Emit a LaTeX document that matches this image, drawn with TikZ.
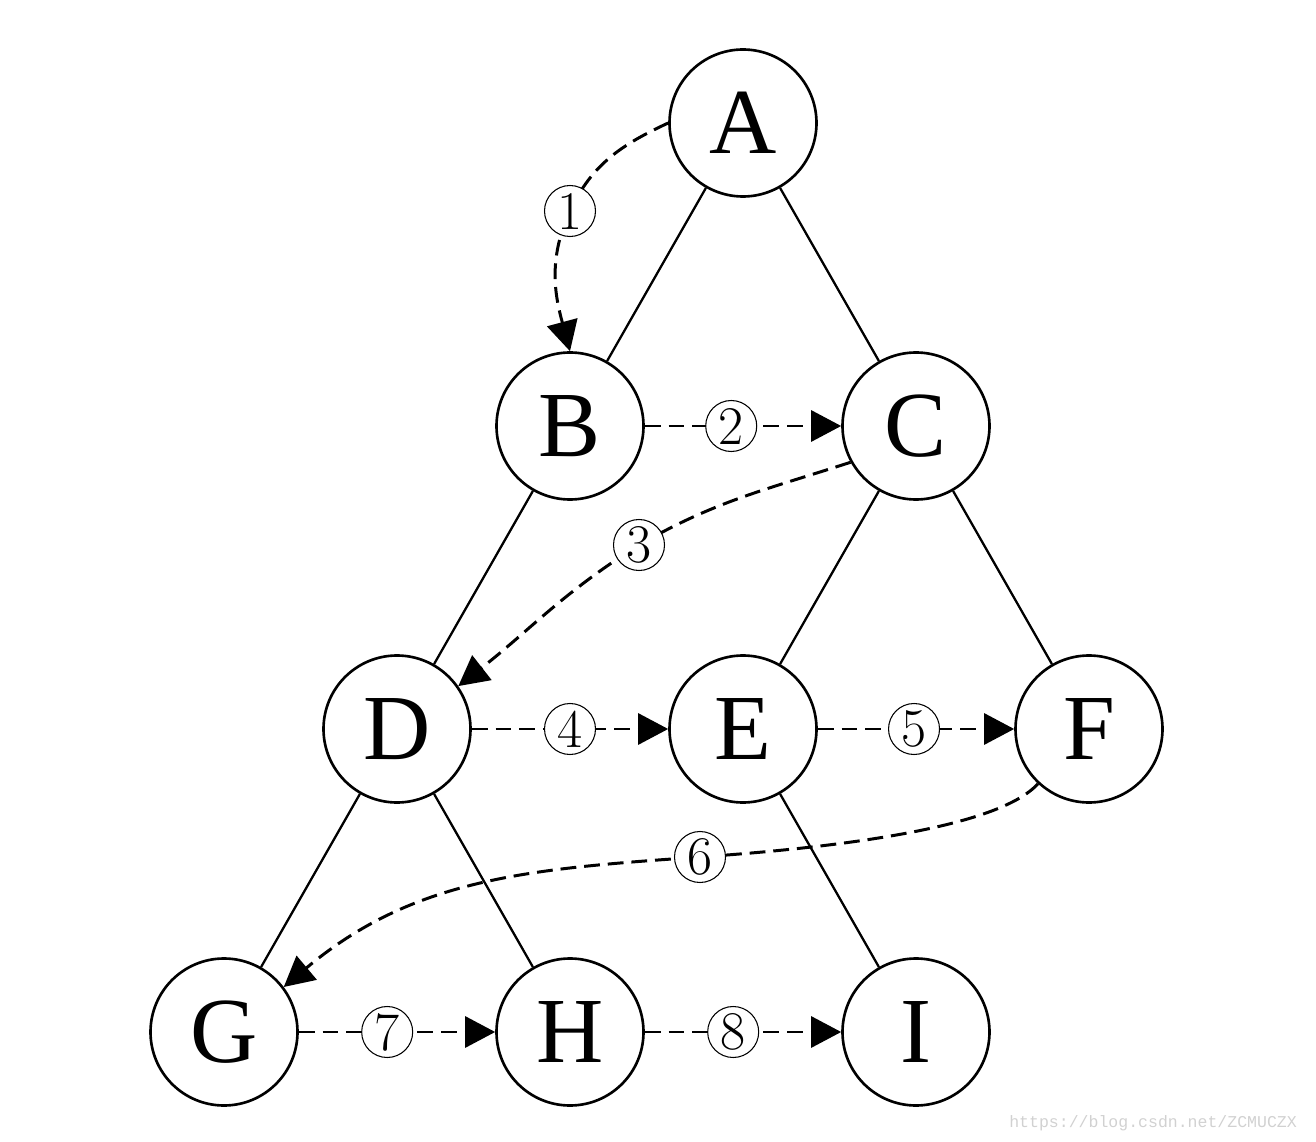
\documentclass[tikz,border=0pt]{standalone}
\usepackage{fontspec}
\usepackage{tikz}
\usetikzlibrary{arrows.meta,positioning}
\newfontfamily\treefont{Liberation Serif}
\newfontfamily\markfont{Liberation Mono}
\tikzset{
  vert/.style  = {draw, circle, line width=1.5pt, minimum size=2.94cm,
                  inner sep=0pt, font=\treefont\fontsize{53}{60}\selectfont},
  num/.style   = {draw, solid, circle, line width=0.6pt, fill=white, minimum size=1.02cm,
                  inner sep=0pt, font=\fontsize{31}{33}\selectfont},
  e/.style     = {line width=1.3pt},
  walk/.style  = {-{Triangle[length=6mm,width=6.2mm]}, line width=1.7pt,
                  dash pattern=on 9pt off 4.5pt},
  wmark/.style = {font=\markfont\fontsize{9.4}{11}\selectfont, text=black!18}
}
\begin{document}
\begin{tikzpicture}[node distance=6.06cm and 3.46cm, on grid]
  \useasboundingbox (0,0) rectangle (26.32,-22.84);
  \node[vert] (A) at (14.86,-2.46) {A};
  \node[vert, below left=of A] (B) {B};
  \node[vert, below right=of A] (C) {C};
  \node[vert, below left=of B] (D) {D};
  \node[vert, below right=of B] (E) {E};
  \node[vert, below right=of C] (F) {F};
  \node[vert, below left=of D] (G) {G};
  \node[vert, below right=of D] (H) {H};
  \node[vert, below right=of E] (I) {I};
  \draw[e] (A) -- (B);
  \draw[e] (A) -- (C);
  \draw[e] (B) -- (D);
  \draw[e] (C) -- (E);
  \draw[e] (C) -- (F);
  \draw[e] (D) -- (G);
  \draw[e] (D) -- (H);
  \draw[e] (E) -- (I);
  \coordinate (c1) at (11.40,-4.22);
  \coordinate (c3) at (12.78,-10.90);
  \coordinate (c6) at (14.00,-17.14);
  \draw[walk] (A.west) to[out=205,in=65] (c1) node[num] {1}
    to[out=245,in=105] (B.north);
  \draw[walk] (B) -- node[num, pos=0.44] {2} (C);
  \draw[walk] (C.209) to[out=198,in=30] (c3) node[num] {3}
    to[out=212,in=38] (D.35);
  \draw[walk] (D) -- node[num, pos=0.5] {4} (E);
  \draw[walk] (E) -- node[num, pos=0.49] {5} (F);
  \draw[walk] (F.227) to[out=228,in=4,out distance=1.2cm,in distance=2.7cm] (c6)
    node[num] {6} to[out=184,in=40] (G.37);
  \draw[walk] (G) -- node[num, pos=0.45] {7} (H);
  \draw[walk] (H) -- node[num, pos=0.45] {8} (I);
  \node[wmark, anchor=base east] (wm) at (26.06,-22.54) {https://blog.csdn.net/ZCMUCZX};
\end{tikzpicture}
\end{document}
